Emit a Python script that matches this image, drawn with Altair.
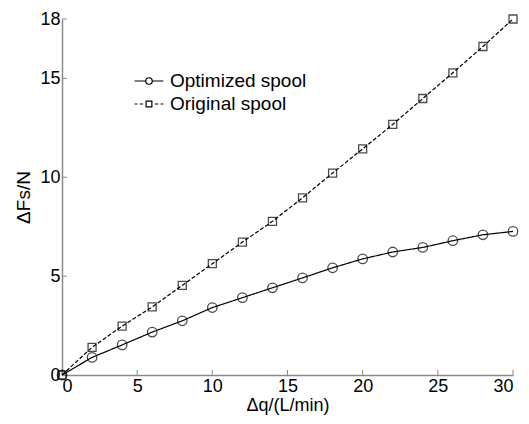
import altair as alt
import pandas as pd

flow = [0, 2, 4, 6, 8, 10, 12, 14, 16, 18, 20, 22, 24, 26, 28, 30]
optimized = [0, 0.89, 1.52, 2.17, 2.74, 3.41, 3.91, 4.41, 4.91, 5.42, 5.87, 6.22, 6.45, 6.79, 7.09, 7.26]
original = [0, 1.40, 2.47, 3.44, 4.53, 5.63, 6.72, 7.77, 8.96, 10.21, 11.43, 12.67, 13.98, 15.28, 16.61, 18.0]
series = ["Optimized spool", "Original spool"]
x_ticks = [0, 5, 10, 15, 20, 25, 30]
y_ticks = [0, 5, 10, 15, 18]

rows = []
for name, vals in zip(series, [optimized, original]):
    for q, f in zip(flow, vals):
        rows.append({"q": q, "F": f, "series": name})
df = pd.DataFrame(rows)

W, H = 451, 356
FONT = "Liberation Sans"
GRAY = "#8a8a8a"

xs = alt.Scale(domain=[0, 30], nice=False, zero=False)
ys = alt.Scale(domain=[0, 18], nice=False, zero=False)

x_enc = alt.X("q:Q", scale=xs, axis=alt.Axis(values=x_ticks, title="Δq/(L/min)", titlePadding=1, titleFontSize=18))
y_enc = alt.Y("F:Q", scale=ys, axis=alt.Axis(values=y_ticks, title="ΔFs/N", titlePadding=6))

lines = alt.Chart(df).mark_line(color="black", strokeWidth=1.2).encode(
    x=x_enc, y=y_enc,
    strokeDash=alt.StrokeDash("series:N", scale=alt.Scale(domain=series, range=[[1, 0], [4, 2]]), legend=None),
    detail="series:N",
)

points = alt.Chart(df).mark_point(color="black", filled=False, strokeWidth=1.3).encode(
    x="q:Q", y="F:Q",
    shape=alt.Shape("series:N", scale=alt.Scale(domain=series, range=["circle", "square"]), legend=None),
    size=alt.Size("series:N", scale=alt.Scale(domain=series, range=[90, 64]), legend=None),
)

leg_circle = "M-1.2,0H-0.27M0.27,0H1.2M-0.27,0A0.27,0.27,0,1,0,0.27,0A0.27,0.27,0,1,0,-0.27,0"
leg_square = "M-1.2,0H-0.97M-0.78,0H-0.5M-0.24,-0.24H0.24V0.24H-0.24ZM0.5,0H0.78M0.97,0H1.2"

legend_layer = alt.Chart(df).transform_filter("datum.F < 0").mark_point(
    color="black", filled=False, opacity=1
).encode(
    x="q:Q", y="F:Q",
    shape=alt.Shape(
        "series:N",
        scale=alt.Scale(domain=series, range=[leg_circle, leg_square]),
        legend=alt.Legend(
            title=None, orient="none", legendX=74, legendY=49,
            labelFont=FONT, labelFontSize=19, labelColor="black",
            symbolSize=576, symbolOpacity=1, symbolStrokeColor="black",
            symbolFillColor="transparent", symbolStrokeWidth=1.2,
            labelOffset=8, rowPadding=0,
        ),
    ),
)

tick_x = pd.DataFrame({"q": x_ticks})
tick_y = pd.DataFrame({"F": y_ticks})
xt = alt.Chart(tick_x).mark_rule(color=GRAY, strokeWidth=1).encode(
    x="q:Q", y=alt.value(H), y2=alt.value(H - 5)
)
yt = alt.Chart(tick_y).mark_rule(color=GRAY, strokeWidth=1).encode(
    y="F:Q", x=alt.value(0), x2=alt.value(5)
)

chart = alt.layer(xt, yt, lines, points, legend_layer).resolve_scale(
    shape="independent", size="independent", strokeDash="independent"
).resolve_legend(shape="independent").properties(
    width=W, height=H,
    autosize="none",
    padding={"left": 54, "top": 11, "right": 8, "bottom": 41},
).configure_view(stroke=None).configure_axis(
    grid=False, ticks=False, domainColor=GRAY, domainWidth=1.5,
    labelFont=FONT, labelFontSize=18, labelColor="black", labelPadding=2,
    titleFont=FONT, titleFontSize=19, titleFontWeight="normal", titleColor="black",
).configure_legend(labelLimit=300)

chart.save("out.html", embed_options={"renderer": "svg", "actions": False})
